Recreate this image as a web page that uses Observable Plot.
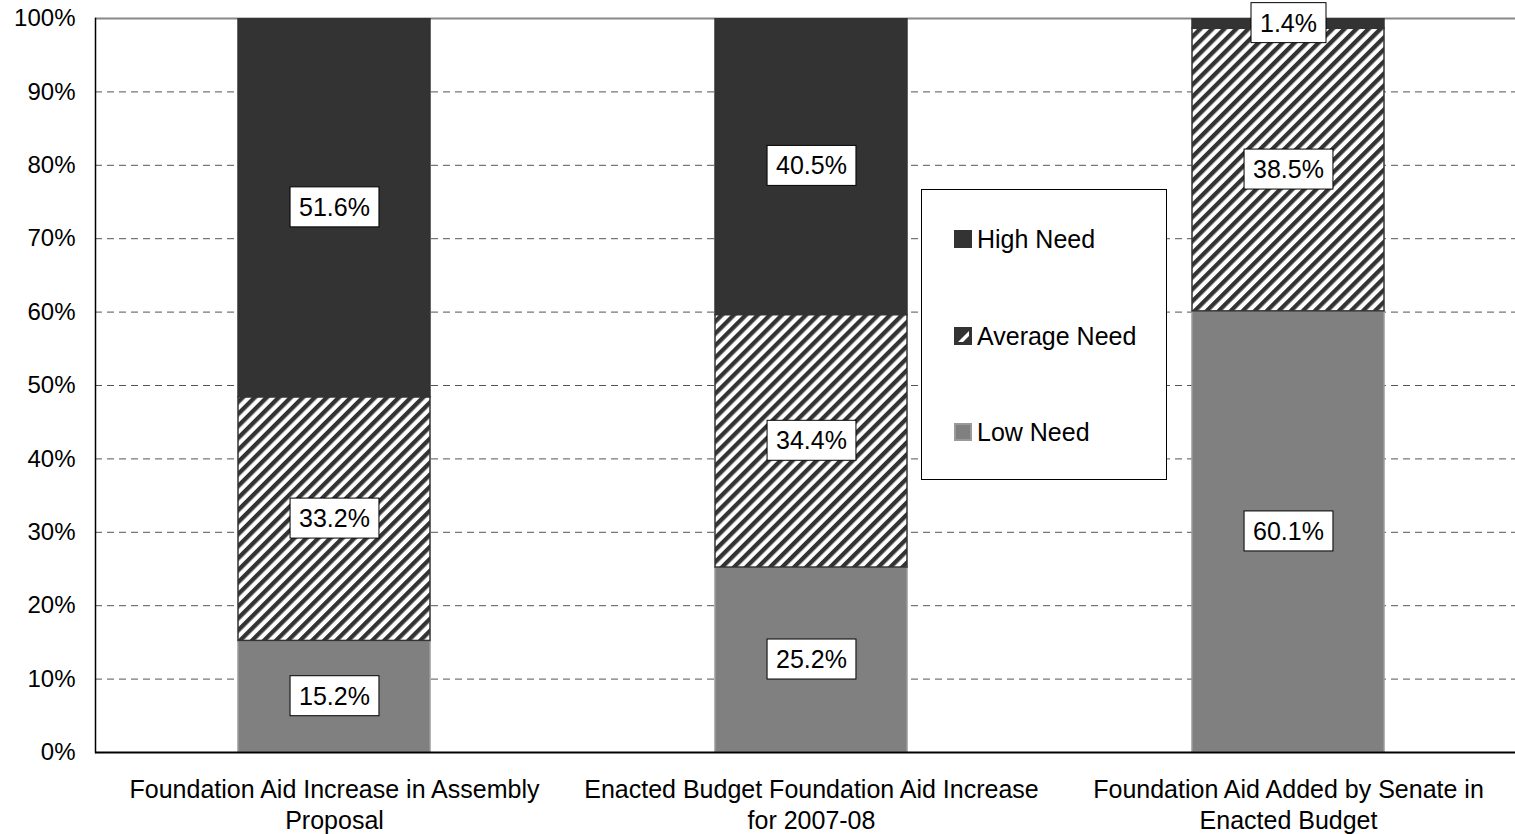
<!DOCTYPE html>
<html><head><meta charset="utf-8">
<script src="https://cdn.jsdelivr.net/npm/d3@7"></script>
<script src="https://cdn.jsdelivr.net/npm/@observablehq/plot@0.6"></script>
<style>
html,body{margin:0;padding:0;background:#fff;overflow:hidden;}
#wrap{position:relative;width:1515px;height:834px;font-family:"Liberation Sans",Arial,Helvetica,sans-serif;}
#legend{position:absolute;left:921px;top:189px;width:246px;height:291px;border:1px solid #000;background:#fff;box-sizing:border-box;}
.item{position:absolute;left:32px;height:28px;display:flex;align-items:center;font-size:25px;color:#000;white-space:nowrap;}
.item svg{margin-right:5px;flex:none;}
</style></head>
<body><div id="wrap"><div id="chart"></div><div id="legend"></div></div>
<script>
const categories = ["Foundation Aid Increase in Assembly Proposal", "Enacted Budget Foundation Aid Increase for 2007-08", "Foundation Aid Added by Senate in Enacted Budget"];
const categoryLabels = ["Foundation Aid Increase in Assembly\nProposal", "Enacted Budget Foundation Aid Increase\nfor 2007-08", "Foundation Aid Added by Senate in\nEnacted Budget"];
const needs = ["Low Need", "Average Need", "High Need"];
const lowNeed = [15.2, 25.2, 60.1];
const averageNeed = [33.2, 34.4, 38.5];
const highNeed = [51.6, 40.5, 1.4];
const yTicks = [0, 10, 20, 30, 40, 50, 60, 70, 80, 90, 100];
const legendOrder = ["High Need", "Average Need", "Low Need"];

const fills = {"Low Need": "#808080", "Average Need": "url(#hatch)", "High Need": "#333333"};
const strokes = {"Low Need": "#9a9a9a", "Average Need": "#333333", "High Need": "#333333"};

const series = {"Low Need": lowNeed, "Average Need": averageNeed, "High Need": highNeed};
const data = [];
categories.forEach((c, i) => needs.forEach(n => data.push({category: c, need: n, value: series[n][i]})));

const chart = Plot.plot({
  width: 1515, height: 834,
  marginLeft: 95, marginRight: 0, marginTop: 18, marginBottom: 82,
  style: {fontFamily: "'Liberation Sans', Arial, Helvetica, sans-serif", fontSize: "24px", background: "#fff", color: "#000", overflow: "visible"},
  x: {domain: categories, range: [95, 1527.5], paddingInner: 0.598, paddingOuter: 0.299},
  y: {domain: [0, 100]},
  color: {type: "identity"},
  marks: [
    Plot.ruleY(yTicks.filter(t => t > 0 && t < 100), {stroke: "#555", strokeOpacity: 1, strokeWidth: 1, strokeDasharray: "7,5"}),
    Plot.ruleY([100], {stroke: "#888", strokeWidth: 2}),
    Plot.barY(data, Plot.stackY({x: "category", y: "value", z: "need", order: needs,
      fill: d => fills[d.need], stroke: d => strokes[d.need], strokeWidth: 1.5, clip: true})),
    Plot.frame({anchor: "left", stroke: "#000", strokeWidth: 1.5}),
    Plot.ruleY([0], {stroke: "#000", strokeWidth: 2}),
    Plot.text(data, Plot.stackY({x: "category", y: "value", z: "need", order: needs,
      text: d => d.value.toFixed(1) + "%", fontSize: 25, fill: "#000"})),
    Plot.axisY({ticks: yTicks, tickFormat: d => d + "%", tickSize: 0, tickPadding: 20, fontSize: 24, label: null}),
    Plot.axisX({tickSize: 0, tickPadding: 23, fontSize: 25, lineHeight: 1.25, label: null,
      tickFormat: d => categoryLabels[categories.indexOf(d)]})
  ]
});

const ns = "http://www.w3.org/2000/svg";
const defs = document.createElementNS(ns, "defs");
defs.innerHTML = '<pattern id="hatch" patternUnits="userSpaceOnUse" width="8.5" height="8.5" patternTransform="rotate(45)"><rect width="8.5" height="8.5" fill="#fff"/><rect width="4.3" height="8.5" fill="#333"/></pattern>';
chart.insertBefore(defs, chart.firstChild);
document.getElementById("chart").append(chart);

// white boxes behind segment labels (texts like "51.6%")
chart.querySelectorAll("text").forEach(t => {
  if (!/^\d+\.\d%$/.test(t.textContent.trim())) return;
  const b = t.getBBox();
  const r = document.createElementNS(ns, "rect");
  r.setAttribute("x", b.x - 9);
  r.setAttribute("y", b.y - 6);
  r.setAttribute("width", b.width + 18);
  r.setAttribute("height", b.height + 12);
  r.setAttribute("fill", "#fff");
  r.setAttribute("stroke", "#000");
  r.setAttribute("stroke-width", "1");
  const tr = t.getAttribute("transform");
  if (tr) r.setAttribute("transform", tr);
  t.parentNode.insertBefore(r, t);
});

// legend
const legend = document.getElementById("legend");
const centers = {"High Need": 49, "Average Need": 146, "Low Need": 242};
legendOrder.forEach(n => {
  const item = document.createElement("div");
  item.className = "item";
  item.style.top = (centers[n] - 14) + "px";
  let sw;
  if (n === "High Need") sw = '<svg width="18" height="18"><rect x="0" y="0" width="18" height="18" fill="#333"/></svg>';
  else if (n === "Average Need") sw = '<svg width="18" height="18"><rect x="1" y="1" width="16" height="16" fill="#333" stroke="#333" stroke-width="2"/><polygon points="4,15 15,4 15,9 9,15" fill="#fff"/></svg>';
  else sw = '<svg width="18" height="18"><rect x="1" y="1" width="16" height="16" fill="#808080" stroke="#9a9a9a" stroke-width="2"/></svg>';
  item.innerHTML = sw + "<span>" + n + "</span>";
  legend.append(item);
});
</script>
</body></html>
